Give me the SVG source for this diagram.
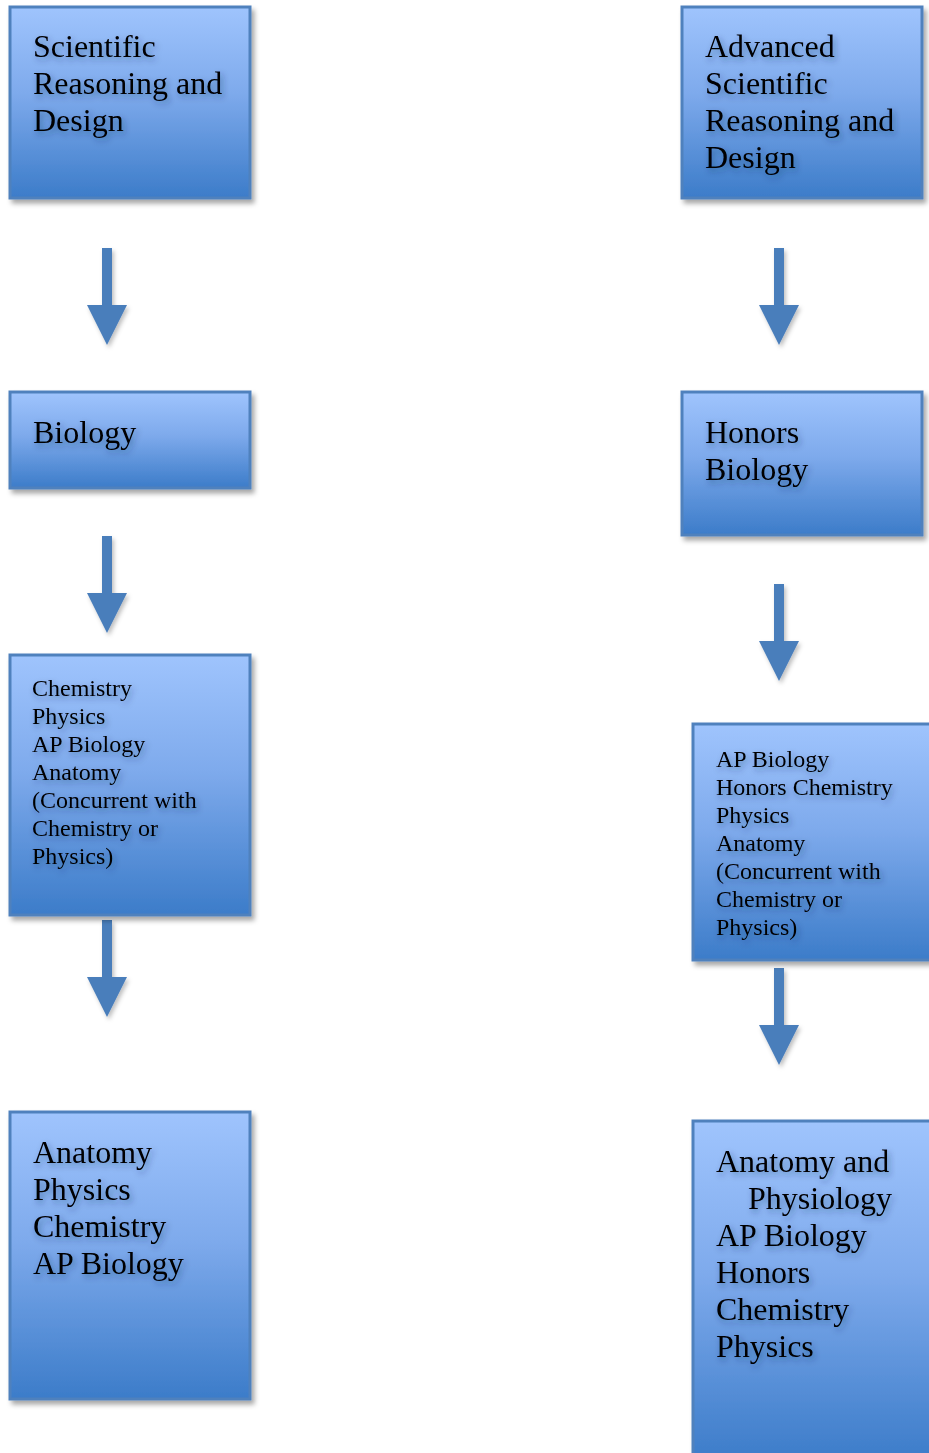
<svg xmlns="http://www.w3.org/2000/svg" width="929" height="1453" viewBox="0 0 929 1453">
<defs>
<linearGradient id="g" x1="0" y1="0" x2="0" y2="1">
<stop offset="0" stop-color="#9fc4fd"/>
<stop offset="0.45" stop-color="#7eaaec"/>
<stop offset="1" stop-color="#3c7cc9"/>
</linearGradient>
<filter id="bs" x="-10%" y="-10%" width="130%" height="130%">
<feDropShadow dx="3" dy="4" stdDeviation="2.5" flood-color="#000" flood-opacity="0.35"/>
</filter>
<filter id="ts" x="-10%" y="-30%" width="130%" height="180%">
<feDropShadow dx="2" dy="3" stdDeviation="3" flood-color="#1a2f55" flood-opacity="0.45"/>
</filter>
<filter id="as" x="-30%" y="-10%" width="160%" height="130%">
<feDropShadow dx="2" dy="3" stdDeviation="2" flood-color="#000" flood-opacity="0.25"/>
</filter>
<path id="arrow" d="M -5 0 H 5 V 57 H 20 L 0 97 L -20 57 H -5 Z"/>
</defs>
<style>
.box{fill:url(#g);stroke:#4f81bd;stroke-width:3;filter:url(#bs)}
.big{font-family:"Liberation Serif","Times New Roman",serif;font-size:32px;fill:#000;filter:url(#ts)}
.sm{font-family:"Liberation Serif","Times New Roman",serif;font-size:24px;fill:#000;filter:url(#ts)}
.arr{fill:#4a7ebb;filter:url(#as)}
</style>
<rect width="929" height="1453" fill="#fff"/>
<g id="connectors">
<use href="#arrow" class="arr" x="107" y="248"/>
<use href="#arrow" class="arr" x="107" y="536"/>
<use href="#arrow" class="arr" x="107" y="920"/>
<use href="#arrow" class="arr" x="779" y="248"/>
<use href="#arrow" class="arr" x="779" y="584"/>
<use href="#arrow" class="arr" x="779" y="968"/>
</g>
<g id="n1">
<rect class="box" x="10" y="7" width="240" height="191"/>
<text class="big"><tspan x="33" y="57">Scientific</tspan><tspan x="33" y="94">Reasoning and</tspan><tspan x="33" y="131">Design</tspan></text>
</g>
<g id="n2">
<rect class="box" x="10" y="392" width="240" height="96"/>
<text class="big" x="33" y="443">Biology</text>
</g>
<g id="n3">
<rect class="box" x="10" y="655" width="240" height="260"/>
<text class="sm"><tspan x="32" y="696">Chemistry</tspan><tspan x="32" y="724">Physics</tspan><tspan x="32" y="752">AP Biology</tspan><tspan x="32" y="780">Anatomy</tspan><tspan x="32" y="808">(Concurrent with</tspan><tspan x="32" y="836">Chemistry or</tspan><tspan x="32" y="864">Physics)</tspan></text>
</g>
<g id="n4">
<rect class="box" x="10" y="1112" width="240" height="287"/>
<text class="big"><tspan x="33" y="1163">Anatomy</tspan><tspan x="33" y="1200">Physics</tspan><tspan x="33" y="1237">Chemistry</tspan><tspan x="33" y="1274">AP Biology</tspan></text>
</g>
<g id="n5">
<rect class="box" x="682" y="7" width="240" height="191"/>
<text class="big"><tspan x="705" y="57">Advanced</tspan><tspan x="705" y="94">Scientific</tspan><tspan x="705" y="131">Reasoning and</tspan><tspan x="705" y="168">Design</tspan></text>
</g>
<g id="n6">
<rect class="box" x="682" y="392" width="240" height="143"/>
<text class="big"><tspan x="705" y="443">Honors</tspan><tspan x="705" y="480">Biology</tspan></text>
</g>
<g id="n7">
<rect class="box" x="693" y="724" width="240" height="236"/>
<text class="sm"><tspan x="716" y="767">AP Biology</tspan><tspan x="716" y="795">Honors Chemistry</tspan><tspan x="716" y="823">Physics</tspan><tspan x="716" y="851">Anatomy</tspan><tspan x="716" y="879">(Concurrent with</tspan><tspan x="716" y="907">Chemistry or</tspan><tspan x="716" y="935">Physics)</tspan></text>
</g>
<g id="n8">
<rect class="box" x="693" y="1121" width="240" height="340"/>
<text class="big"><tspan x="716" y="1172">Anatomy and</tspan><tspan x="748" y="1209">Physiology</tspan><tspan x="716" y="1246">AP Biology</tspan><tspan x="716" y="1283">Honors</tspan><tspan x="716" y="1320">Chemistry</tspan><tspan x="716" y="1357">Physics</tspan></text>
</g>
</svg>
